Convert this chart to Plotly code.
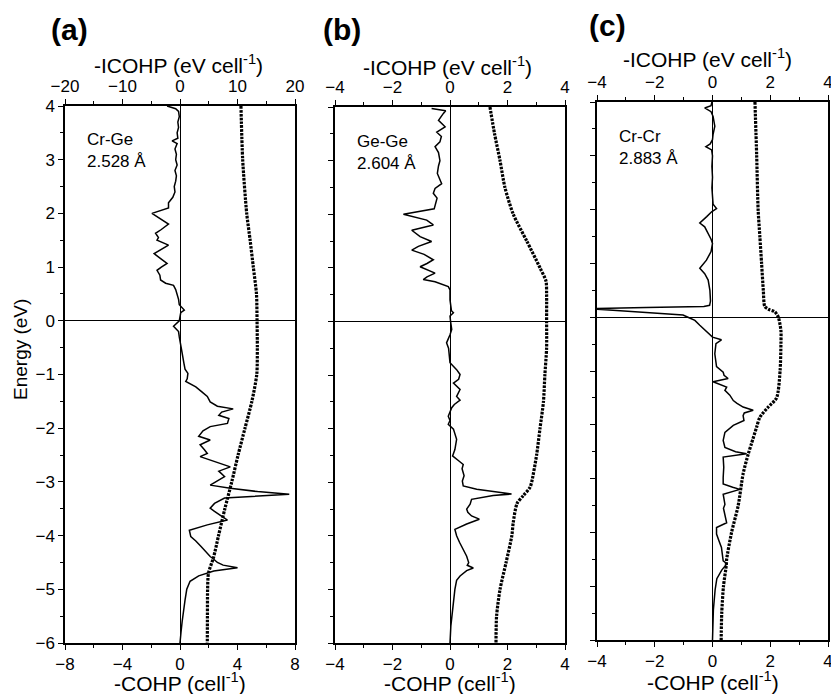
import plotly.graph_objects as go

# ---------------- data ----------------
# Panel (a) Cr-Ge  -COHP
e_cohp_a = [4.0, 3.95, 3.9, 3.8, 3.7, 3.6, 3.5, 3.4, 3.35, 3.3, 3.2, 3.1, 3.0, 2.9, 2.8, 2.7, 2.6, 2.5, 2.4, 2.3,
            2.2, 2.1, 2.0, 1.9, 1.8, 1.7, 1.63, 1.55, 1.5, 1.41, 1.33, 1.25, 1.15, 1.07, 1.0, 0.94, 0.85, 0.76,
            0.7, 0.66, 0.58, 0.5, 0.4, 0.3, 0.2, 0.15, 0.05, 0.0, -0.1, -0.2, -0.3, -0.48, -0.6, -0.8, -0.9,
            -0.98, -1.08, -1.13, -1.23, -1.32, -1.41, -1.51, -1.59, -1.64, -1.7, -1.76, -1.82, -1.91, -1.97,
            -2.05, -2.15, -2.22, -2.31, -2.4, -2.47, -2.53, -2.62, -2.72, -2.8, -2.9, -2.98, -3.06, -3.12,
            -3.18, -3.23, -3.27, -3.3, -3.4, -3.49, -3.55, -3.62, -3.71, -3.8, -3.9, -4.02, -4.1, -4.2, -4.3,
            -4.39, -4.44, -4.5, -4.55, -4.6, -4.66, -4.75, -4.85, -5.0, -5.2, -5.38, -5.6, -5.8, -6.0]
cohp_a = [-0.9, -0.3, -0.1, -0.05, -0.15, -0.1, -0.2, -0.15, -0.55, -0.2, -0.35, -0.25, -0.3, -0.2, -0.35,
          -0.25, -0.3, -0.4, -0.35, -0.5, -0.8, -0.8, -1.95, -1.4, -0.8, -1.3, -1.7, -1.5, -1.6, -0.8, -1.3,
          -1.8, -1.3, -0.9, -1.3, -1.6, -1.4, -1.35, -1.0, -0.45, -0.3, -0.2, -0.1, -0.05, 0.3, 0.05, 0.0,
          -0.05, -0.45, -0.1, -0.05, 0.1, 0.15, 0.28, 0.35, 0.55, 0.5, 0.4, 1.1, 1.5, 1.9, 2.1, 2.6, 3.7,
          2.9, 2.7, 3.4, 3.3, 2.1, 1.6, 1.3, 2.1, 1.4, 1.7, 1.9, 1.4, 2.4, 3.5, 2.7, 3.1, 2.6, 2.1, 3.5,
          5.4, 7.6, 5.4, 3.1, 2.4, 2.1, 2.4, 2.8, 3.3, 1.9, 0.65, 0.75, 1.1, 1.45, 1.8, 2.1, 2.35, 2.6,
          3.0, 4.0, 2.35, 1.3, 0.7, 0.47, 0.35, 0.24, 0.15, 0.07, 0.0]
# Panel (a) -ICOHP
e_icohp_a = [4.0, 3.0, 2.0, 1.5, 1.0, 0.5, 0.0, -0.5, -1.0, -1.5, -2.0, -2.5, -3.0, -3.5, -4.0, -4.4,
             -4.7, -5.0, -5.5, -6.0]
icohp_a = [10.6, 10.9, 11.6, 12.2, 12.75, 13.3, 13.4, 13.45, 13.35, 12.5, 11.3, 10.1, 9.0, 7.8, 6.7,
           5.85, 4.95, 4.8, 4.77, 4.75]

# Panel (b) Ge-Ge  -COHP
e_cohp_b = [3.97, 3.93, 3.88, 3.75, 3.63, 3.53, 3.45, 3.35, 3.26, 3.15, 3.0, 2.9, 2.76, 2.65, 2.57, 2.48,
            2.39, 2.3, 2.2, 2.1, 2.0, 1.89, 1.8, 1.7, 1.58, 1.49, 1.4, 1.33, 1.25, 1.15, 1.08, 1.02, 0.9,
            0.83, 0.78, 0.74, 0.65, 0.59, 0.4, 0.2, 0.16, 0.1, 0.0, -0.15, -0.25, -0.4, -0.5, -0.77, -0.9,
            -0.99, -1.08, -1.15, -1.27, -1.4, -1.47, -1.55, -1.61, -1.77, -1.85, -1.92, -2.01, -2.2, -2.39,
            -2.51, -2.6, -2.67, -2.75, -2.88, -2.98, -3.07, -3.13, -3.19, -3.22, -3.25, -3.32, -3.41, -3.5,
            -3.56, -3.63, -3.69, -3.78, -3.88, -4.0, -4.12, -4.25, -4.38, -4.5, -4.55, -4.6, -4.65, -4.75,
            -4.83, -5.0, -5.36, -5.68, -6.0]
cohp_b = [-0.64, -0.15, -0.23, -0.4, -0.17, -0.46, -0.3, -0.35, -0.52, -0.4, -0.35, -0.4, -0.44, -0.35,
          -0.29, -0.52, -0.58, -0.45, -0.49, -0.55, -1.62, -0.81, -0.58, -1.33, -1.04, -0.64, -1.1, -1.33,
          -0.9, -0.58, -0.8, -1.04, -0.52, -0.8, -0.93, -0.52, -0.06, 0.0, 0.0, 0.05, 0.12, 0.0, 0.02,
          0.06, 0.0, -0.12, -0.05, 0.0, 0.23, 0.35, 0.3, 0.12, 0.35, 0.23, 0.35, 0.15, 0.06, -0.06, 0.0,
          -0.06, 0.12, 0.23, 0.17, 0.09, 0.3, 0.46, 0.42, 0.49, 0.43, 0.46, 0.93, 1.74, 2.14, 1.5, 0.75,
          0.7, 0.58, 0.62, 0.75, 1.02, 0.58, 0.17, 0.23, 0.33, 0.46, 0.58, 0.65, 0.6, 0.81, 0.58, 0.35,
          0.23, 0.17, 0.09, 0.03, 0.0]
# Panel (b) -ICOHP
e_icohp_b = [4.0, 3.5, 3.0, 2.5, 2.0, 1.5, 1.0, 0.75, 0.5, 0.0, -0.5, -1.0, -1.5, -2.0, -2.5, -3.0,
             -3.1, -3.25, -3.4, -3.75, -4.0, -4.5, -5.0, -5.5, -6.0]
icohp_b = [1.39, 1.55, 1.74, 1.91, 2.2, 2.67, 3.13, 3.34, 3.36, 3.36, 3.36, 3.3, 3.25, 3.13, 3.01, 2.84,
           2.78, 2.55, 2.33, 2.2, 2.15, 1.95, 1.74, 1.62, 1.6]

# Panel (c) Cr-Cr  -COHP
e_cohp_c = [4.0, 3.93, 3.89, 3.82, 3.73, 3.55, 3.4, 3.3, 3.22, 3.17, 3.11, 3.0, 2.8, 2.6, 2.4, 2.2, 2.1,
            2.02, 1.96, 1.87, 1.75, 1.68, 1.56, 1.45, 1.37, 1.22, 1.06, 0.91, 0.81, 0.69, 0.5, 0.3, 0.22,
            0.2, 0.18, 0.16, 0.13, 0.1, 0.07, 0.04, 0.0, -0.06, -0.15, -0.27, -0.37, -0.42, -0.49, -0.68,
            -0.92, -1.02, -1.08, -1.14, -1.2, -1.3, -1.36, -1.45, -1.55, -1.6, -1.67, -1.73, -1.78, -1.83,
            -1.92, -2.01, -2.14, -2.29, -2.42, -2.5, -2.54, -2.6, -2.79, -2.98, -3.1, -3.16, -3.2, -3.29,
            -3.48, -3.55, -3.66, -3.82, -3.91, -4.03, -4.15, -4.28, -4.53, -4.58, -4.7, -4.86, -5.07, -5.44,
            -6.0]
cohp_c = [-0.02, -0.05, -0.27, -0.05, 0.02, 0.08, 0.02, 0.0, -0.08, -0.23, -0.03, 0.0, -0.02, 0.0, -0.02,
          0.0, 0.02, 0.14, -0.03, -0.2, -0.44, -0.27, -0.15, -0.05, 0.0, -0.05, -0.21, -0.44, -0.27, -0.15,
          -0.09, -0.07, -0.1, -0.3, -2.3, -4.3, -3.45, -2.6, -1.7, -1.02, -0.85, -0.61, -0.44, -0.21, 0.0,
          0.31, 0.12, 0.08, 0.14, 0.37, 0.4, 0.54, 0.02, 0.49, 0.43, 0.6, 0.72, 0.85, 1.06, 1.41, 1.1, 1.06,
          1.09, 0.72, 0.43, 0.37, 0.43, 0.8, 1.18, 0.37, 0.39, 0.37, 0.37, 0.7, 0.95, 0.37, 0.43, 0.38, 0.43,
          0.49, 0.14, 0.14, 0.22, 0.31, 0.37, 0.5, 0.32, 0.15, 0.09, 0.03, 0.0]
# Panel (c) -ICOHP
e_icohp_c = [4.0, 3.0, 2.0, 1.5, 1.0, 0.5, 0.2, 0.15, 0.1, 0.0, -0.25, -0.5, -1.0, -1.5, -1.67, -1.86,
             -2.04, -2.35, -2.54, -2.91, -3.5, -4.0, -4.5, -4.6, -5.0, -5.5, -6.0]
icohp_c = [1.47, 1.53, 1.58, 1.64, 1.7, 1.76, 1.81, 1.93, 2.16, 2.28, 2.37, 2.37, 2.34, 2.22, 1.93, 1.64,
           1.53, 1.35, 1.24, 1.06, 0.89, 0.66, 0.49, 0.48, 0.38, 0.32, 0.3]

panel_letters = ["(a)", "(b)", "(c)"]
bond_labels = ["Cr-Ge<br>2.528 Å", "Ge-Ge<br>2.604 Å", "Cr-Cr<br>2.883 Å"]
cohp_ranges = [[-8, 8], [-4, 4], [-4, 4]]
cohp_ticks = [[-8, -4, 0, 4, 8], [-4, -2, 0, 2, 4], [-4, -2, 0, 2, 4]]
icohp_ranges = [[-20, 20], [-4, 4], [-4, 4]]
icohp_ticks = [[-20, -10, 0, 10, 20], [-4, -2, 0, 2, 4], [-4, -2, 0, 2, 4]]
energy_range = [-6, 4]
energy_ticks = [-6, -5, -4, -3, -2, -1, 0, 1, 2, 3, 4]

# ---------------- layout geometry ----------------
W, H = 831, 694
FONT = "Arial, 'Liberation Sans', sans-serif"


def px(x):
    return x / W


def py(y):
    return 1 - y / H


x_px = [(65, 295), (335, 565), (597, 828)]
y_px = [(106, 643), (107, 643), (102, 640)]

fig = go.Figure()

data = [
    (e_cohp_a, cohp_a, e_icohp_a, icohp_a),
    (e_cohp_b, cohp_b, e_icohp_b, icohp_b),
    (e_cohp_c, cohp_c, e_icohp_c, icohp_c),
]

layout = dict(
    template="none",
    width=W, height=H, margin=dict(l=0, r=0, t=0, b=0, pad=0, autoexpand=False),
    paper_bgcolor="white", plot_bgcolor="white", showlegend=False,
    font=dict(family=FONT, color="black", size=17),
)

axis_common = dict(showgrid=False, showline=True, linecolor="black", linewidth=1.5, automargin=False,
                   ticks="outside", ticklen=5, tickwidth=1.3, tickcolor="black",
                   ticklabeloverflow="allow",
                   tickfont=dict(family=FONT, size=17, color="black"))

annotations = []
for i, (ec, c, ei, ic) in enumerate(data):
    xb = "x" if i == 0 else f"x{2 * i + 1}"
    xt = f"x{2 * i + 2}"
    yy = "y" if i == 0 else f"y{i + 1}"
    xb_key = "xaxis" if i == 0 else f"xaxis{2 * i + 1}"
    xt_key = f"xaxis{2 * i + 2}"
    y_key = "yaxis" if i == 0 else f"yaxis{i + 1}"

    fig.add_trace(go.Scatter(x=c, y=ec, mode="lines", xaxis=xb, yaxis=yy,
                             line=dict(color="black", width=1.5)))
    fig.add_trace(go.Scatter(x=ic, y=ei, mode="lines", xaxis=xt, yaxis=yy,
                             line=dict(color="black", width=3.2, dash="2.6px,1.2px",
                                       shape="spline", smoothing=0.7)))

    dom_x = [px(x_px[i][0]), px(x_px[i][1])]
    dom_y = [py(y_px[i][1]), py(y_px[i][0])]

    step_b = cohp_ticks[i][1] - cohp_ticks[i][0]
    step_t = icohp_ticks[i][1] - icohp_ticks[i][0]
    layout[xb_key] = dict(axis_common, domain=dom_x, anchor=yy, side="bottom", range=cohp_ranges[i],
                          tickvals=cohp_ticks[i], zeroline=True, zerolinecolor="black", zerolinewidth=1.3,
                          minor=dict(dtick=step_b / 2, tick0=0, ticks="outside", ticklen=3,
                                     tickcolor="black", tickwidth=1.3))
    layout[xt_key] = dict(axis_common, domain=dom_x, anchor=yy, side="top", overlaying=xb,
                          range=icohp_ranges[i], tickvals=icohp_ticks[i], zeroline=False,
                          minor=dict(dtick=step_t / 2, tick0=0, ticks="outside", ticklen=3,
                                     tickcolor="black", tickwidth=1.3))
    layout[y_key] = dict(axis_common, domain=dom_y, anchor=xb, range=energy_range, tickvals=energy_ticks,
                         mirror=True, zeroline=True, zerolinecolor="black", zerolinewidth=1.3,
                         showticklabels=(i == 0),
                         minor=dict(dtick=0.5, tick0=0, ticks="outside", ticklen=3,
                                    tickcolor="black", tickwidth=1.3))

title_pos_top = [(178, 64), (448, 66), (707, 58)]
title_pos_bot = [(180, 682), (450, 682), (713, 681)]
letter_pos = [(69, 30), (342, 30), (607, 26)]
bond_pos = [(85, 128), (355, 130), (617, 125)]

for i in range(3):
    annotations.append(dict(text="-ICOHP (eV cell<sup>-1</sup>)", xref="paper", yref="paper",
                            x=px(title_pos_top[i][0]), y=py(title_pos_top[i][1]), showarrow=False,
                            xanchor="center", yanchor="middle", font=dict(size=21, family=FONT)))
    annotations.append(dict(text="-COHP (cell<sup>-1</sup>)", xref="paper", yref="paper",
                            x=px(title_pos_bot[i][0]), y=py(title_pos_bot[i][1]), showarrow=False,
                            xanchor="center", yanchor="middle", font=dict(size=21, family=FONT)))
    annotations.append(dict(text="<b>" + panel_letters[i] + "</b>", xref="paper", yref="paper",
                            x=px(letter_pos[i][0]), y=py(letter_pos[i][1]), showarrow=False,
                            xanchor="center", yanchor="middle", font=dict(size=30, family=FONT)))
    annotations.append(dict(text=bond_labels[i], xref="paper", yref="paper", align="left",
                            x=px(bond_pos[i][0]), y=py(bond_pos[i][1]), showarrow=False,
                            xanchor="left", yanchor="top", font=dict(size=17, family=FONT)))

annotations.append(dict(text="Energy (eV)", xref="paper", yref="paper", x=px(20), y=py(350),
                        textangle=-90, showarrow=False, xanchor="center", yanchor="middle",
                        font=dict(size=19, family=FONT)))

layout["annotations"] = annotations
fig.update_layout(**layout)
fig.write_html("out.html")
